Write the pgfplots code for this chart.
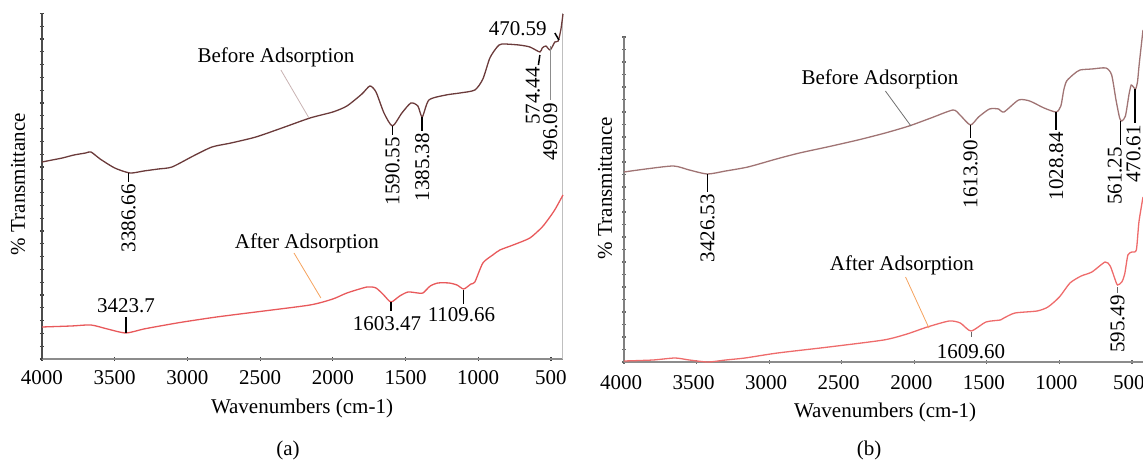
\documentclass[border=0pt]{standalone}
\usepackage{fontspec}
\setmainfont{Liberation Serif}
\usepackage{pgfplots}
\pgfplotsset{compat=1.18}
\definecolor{befA}{HTML}{6B3B3B}
\definecolor{befB}{HTML}{A07474}
\definecolor{aftA}{HTML}{E8595B}
\definecolor{aftB}{HTML}{EE6B6B}
\definecolor{leadO}{HTML}{F5A25D}
\definecolor{leadA}{HTML}{C9B3B3}
\definecolor{leadB}{HTML}{707070}
\pgfplotsset{ftir/.style={scale only axis, x dir=reverse, clip=false,
  axis line style={draw=none}, xtick={500,1000,...,4000}, xtick pos=left, ytick pos=left,
  yticklabels={}, tick align=center, major tick length=4pt,
  tick style={line width=1.2pt, color=black!75},
  /pgf/number format/assume math mode=true,
  /pgf/number format/set thousands separator={},
  xmax=4000, ymin=0}}
\begin{document}
\begin{tikzpicture}[font=\fontsize{21}{25}\selectfont]
\useasboundingbox (0,0) rectangle (1143pt,460pt);
% ---------- panel (a)
\begin{axis}[ftir, at={(42pt,101pt)}, anchor=south west, width=521pt, height=346pt,
  xmin=417, ymax=346, ytick={0,12.8,...,346}, xticklabel style={yshift=-6pt}]
\draw[black!45, line width=1.2pt] (axis cs:4000,0) -- (axis cs:417,0);
\draw[black!70, line width=2pt] (axis cs:4000,0) -- (axis cs:4000,346);
\draw[black!25, line width=1pt] (axis cs:417,0) -- (axis cs:417,346);
\addplot[befA, line width=1.3pt, smooth, tension=0.4] coordinates {
(4000,197)(3930,199)(3860,201)(3780,204)(3700,206)(3663,207)(3600,200)(3500,191)(3395,186)
(3300,188)(3200,190)(3106,192)(2960,203)(2831,212)(2700,216)(2529,222)(2350,231)(2157,241)(2000,247)(1903,253)(1800,265)
(1745,273)(1703,267)(1648,246)(1590,233)(1525,246)(1463,256)(1415,253)(1385,242)
(1339,259)(1222,264)(1126,266)(1023,269)(968,280)(920,301)(870,312)(837,315)(720,314)
(645,312)(576,307)(560,311)(535,313)(505,309)(473,317)(450,318)(431,330)(417,345)};
\addplot[aftA, line width=1.3pt, smooth, tension=0.4] coordinates {
(4000,32)(3800,33)(3663,34)(3550,30)(3423,26)(3300,30)(3150,34)(3030,37)(2800,42)(2529,47)(2157,54)
(2000,60)(1903,66)(1765,72)(1703,71)(1650,64)(1600,57)(1540,63)(1483,67)(1415,66)(1380,66)
(1330,73)(1277,76)(1200,76)(1146,74)(1100,70)(1050,75)(1023,77)(968,96)(900,104)(851,109)(760,114)(645,121)(560,132)(507,142)
(470,150)(417,164)};
% before labels
\draw[black, line width=1.5pt] (axis cs:3405,186) -- (axis cs:3405,177);
\node[rotate=90, anchor=east, inner sep=1pt] at (axis cs:3405,176) {3386.66};
\draw[black, line width=1.5pt] (axis cs:1590,233) -- (axis cs:1590,224);
\node[rotate=90, anchor=east, inner sep=1pt] at (axis cs:1590,223) {1590.55};
\draw[black, line width=1.5pt] (axis cs:1385,242) -- (axis cs:1385,228);
\node[rotate=90, anchor=east, inner sep=1pt] at (axis cs:1385,227) {1385.38};
\draw[black, line width=1.5pt] (axis cs:576,304) -- (axis cs:586,294);
\node[rotate=90, anchor=east, inner sep=1pt] at (axis cs:625,293) {574.44};
\draw[black!45, line width=0.8pt] (axis cs:505,313) -- (axis cs:505,259);
\node[rotate=90, anchor=east, inner sep=1pt] at (axis cs:505,257) {496.09};
\node[anchor=east, inner sep=1pt] at (axis cs:521,330) {470.59};
\draw[black, line width=1.5pt] (axis cs:473,326) -- (axis cs:445,319);
\node at (axis cs:2391,302) {Before Adsorption};
\draw[leadA, line width=0.8pt] (axis cs:2357,289) -- (axis cs:2164,241);
% after labels
\draw[black, line width=1.5pt] (axis cs:3422,42) -- (axis cs:3422,26);
\node at (axis cs:3422,53) {3423.7};
\draw[black, line width=1.5pt] (axis cs:1600,57) -- (axis cs:1600,48);
\node at (axis cs:1628,35) {1603.47};
\draw[black, line width=1.5pt] (axis cs:1100,69) -- (axis cs:1100,55);
\node at (axis cs:1115,44) {1109.66};
\node at (axis cs:2178,116) {After Adsorption};
\draw[leadO, line width=0.8pt] (axis cs:2267,106) -- (axis cs:2082,61);
\end{axis}
% ---------- panel (b)
\begin{axis}[ftir, at={(624pt,98pt)}, anchor=south west, width=519pt, height=325pt,
  xmin=424, ymax=325, ytick={0,12.5,...,325}, xticklabel style={yshift=-8pt, xshift=-3pt},
  tick style={line width=1.2pt, color=black!60}]
\draw[black!45, line width=1.5pt] (axis cs:4000,0) -- (axis cs:424,0);
\draw[black!50, line width=2.6pt] (axis cs:4000,0) -- (axis cs:4000,325);
\addplot[befB, line width=1.3pt, smooth, tension=0.4] coordinates {
(4000,190)(3850,193)(3659,196)(3550,192)(3425,188)(3300,191)(3146,195)(2950,203)(2791,209)
(2600,215)(2388,222)(2200,229)(2036,236)(1885,244)(1733,252)(1685,247)(1613,237)(1557,245)(1482,253)
(1419,253)(1382,250)(1281,262)(1205,261)(1106,254)(1022,250)(990,256)(970,272)(950,281)
(900,288)(858,292)(776,293)(679,294)(640,287)(610,262)(585,244)(570,241)(545,246)(520,268)(505,277)
(490,275)(475,273)(462,280)(450,298)(424,332)};
\addplot[aftB, line width=1.3pt, smooth, tension=0.4] coordinates {
(4000,1)(3800,2)(3649,4)(3550,2)(3421,0)(3300,2)(3166,4)(2942,9)(2589,15)(2211,22)(2050,28)(1910,35)(1759,41)
(1683,39)(1609,31)(1506,40)(1406,42)(1382,44)(1306,49)(1154,51)(1079,55)(1000,65)(927,79)
(850,86)(776,90)(685,100)(650,96)(620,84)(600,77)(570,80)(550,88)(528,107)(500,110)(470,112)(452,140)(424,165)};
\draw[black, line width=1.5pt] (axis cs:3425,188) -- (axis cs:3425,170);
\node[rotate=90, anchor=east, inner sep=1pt] at (axis cs:3425,169) {3426.53};
\draw[black, line width=1.5pt] (axis cs:1613,237) -- (axis cs:1613,224);
\node[rotate=90, anchor=east, inner sep=1pt] at (axis cs:1613,223) {1613.90};
\draw[black, line width=1.5pt] (axis cs:1022,250) -- (axis cs:1022,232);
\node[rotate=90, anchor=east, inner sep=1pt] at (axis cs:1022,231) {1028.84};
\draw[black, line width=1.5pt] (axis cs:578,241) -- (axis cs:578,217);
\node[rotate=90, anchor=east, inner sep=1pt] at (axis cs:618,216) {561.25};
\draw[black, line width=1.5pt] (axis cs:478,273) -- (axis cs:478,239);
\node[rotate=90, anchor=east, inner sep=1pt] at (axis cs:490,238) {470.61};
\node at (axis cs:2236,283) {Before Adsorption};
\draw[leadB, line width=0.8pt] (axis cs:2199,271) -- (axis cs:2023,236);
\draw[black!60, line width=1.5pt] (axis cs:1605,30) -- (axis cs:1605,25);
\node at (axis cs:1609,10) {1609.60};
\draw[black!60, line width=1.5pt] (axis cs:600,75) -- (axis cs:600,69);
\node[rotate=90, anchor=east, inner sep=1pt] at (axis cs:600,68) {595.49};
\node at (axis cs:2085,97) {After Adsorption};
\draw[leadO, line width=0.8pt] (axis cs:2060,85) -- (axis cs:1899,34);
\end{axis}
% ---------- outer labels
\node[rotate=90] at (18pt,276pt) {\% Transmittance};
\node[rotate=90] at (605pt,272pt) {\% Transmittance};
\node at (302pt,52pt) {Wavenumbers (cm-1)};
\node at (885pt,48pt) {Wavenumbers (cm-1)};
\node at (288pt,10pt) {(a)};
\node at (869pt,10pt) {(b)};
\end{tikzpicture}
\end{document}
